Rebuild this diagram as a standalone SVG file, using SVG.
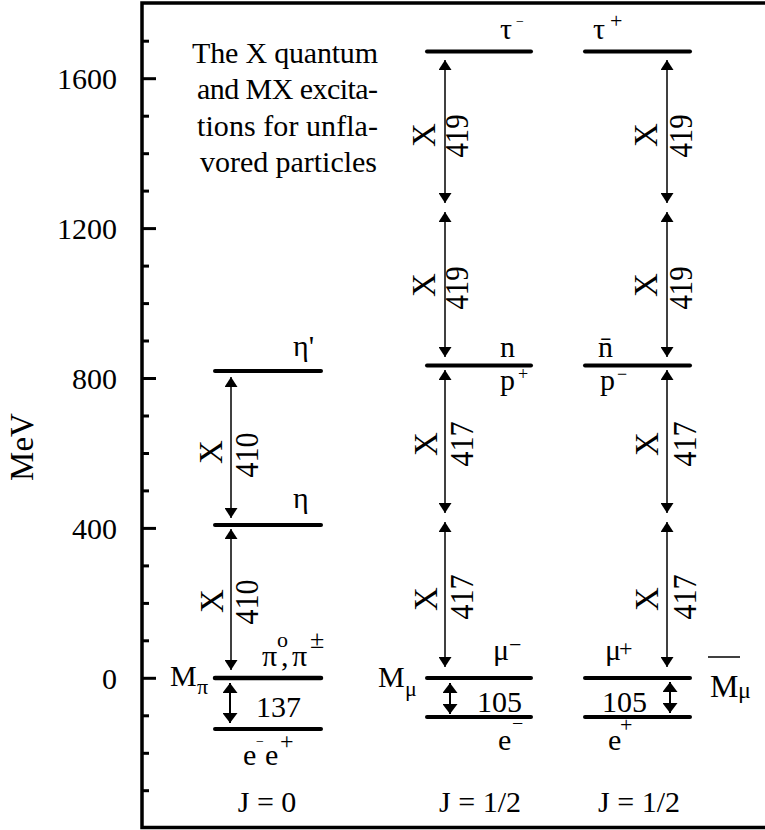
<svg xmlns="http://www.w3.org/2000/svg" width="765" height="830" viewBox="0 0 765 830" font-family="Liberation Serif">
<defs>
<marker id="ah" viewBox="0 0 10 13" refX="10" refY="6.5" markerWidth="10" markerHeight="13" markerUnits="userSpaceOnUse" orient="auto-start-reverse"><path d="M0,0 L10,6.5 L0,13 z" fill="#000"/></marker>
<marker id="ah2" viewBox="0 0 10 15" refX="10" refY="7.5" markerWidth="10" markerHeight="15" markerUnits="userSpaceOnUse" orient="auto-start-reverse"><path d="M0,0 L10,7.5 L0,15 z" fill="#000"/></marker>
</defs>
<rect width="765" height="830" fill="#fff"/>
<g id="frame">
<path d="M765,3 H142 V827.5 H765" fill="none" stroke="#000" stroke-width="3.5"/>
</g>
<g id="axis">
<g stroke="#000" stroke-width="3">
<line x1="142" y1="790.7" x2="149" y2="790.7"/>
<line x1="142" y1="753.3" x2="149" y2="753.3"/>
<line x1="142" y1="715.8" x2="149" y2="715.8"/>
<line x1="142" y1="678.3" x2="156" y2="678.3"/>
<line x1="142" y1="640.8" x2="149" y2="640.8"/>
<line x1="142" y1="603.4" x2="149" y2="603.4"/>
<line x1="142" y1="565.9" x2="149" y2="565.9"/>
<line x1="142" y1="528.4" x2="156" y2="528.4"/>
<line x1="142" y1="490.9" x2="149" y2="490.9"/>
<line x1="142" y1="453.5" x2="149" y2="453.5"/>
<line x1="142" y1="416" x2="149" y2="416"/>
<line x1="142" y1="378.5" x2="156" y2="378.5"/>
<line x1="142" y1="341" x2="149" y2="341"/>
<line x1="142" y1="303.6" x2="149" y2="303.6"/>
<line x1="142" y1="266.1" x2="149" y2="266.1"/>
<line x1="142" y1="228.6" x2="156" y2="228.6"/>
<line x1="142" y1="191.1" x2="149" y2="191.1"/>
<line x1="142" y1="153.7" x2="149" y2="153.7"/>
<line x1="142" y1="116.2" x2="149" y2="116.2"/>
<line x1="142" y1="78.7" x2="156" y2="78.7"/>
<line x1="142" y1="41.2" x2="149" y2="41.2"/>
</g>
<text font-family="Liberation Serif" font-size="30" text-anchor="end" x="117" y="89">1600</text>
<text font-family="Liberation Serif" font-size="30" text-anchor="end" x="117" y="239">1200</text>
<text font-family="Liberation Serif" font-size="30" text-anchor="end" x="117" y="389">800</text>
<text font-family="Liberation Serif" font-size="30" text-anchor="end" x="117" y="539">400</text>
<text font-family="Liberation Serif" font-size="30" text-anchor="end" x="117" y="689">0</text>
<text font-family="Liberation Serif" font-size="33" text-anchor="middle" transform="translate(33,447) rotate(-90)">MeV</text>
</g>
<g id="title">
<text font-family="Liberation Serif" font-size="30" x="192" y="63" textLength="186" lengthAdjust="spacing">The X quantum</text>
<text font-family="Liberation Serif" font-size="30" x="197" y="99" textLength="181" lengthAdjust="spacing">and MX excita-</text>
<text font-family="Liberation Serif" font-size="30" x="197" y="136" textLength="181" lengthAdjust="spacing">tions for unfla-</text>
<text font-family="Liberation Serif" font-size="30" x="200" y="172" textLength="177" lengthAdjust="spacing">vored particles</text>
</g>
<g id="level-eta-prime">
<line x1="215" y1="371" x2="321" y2="371" stroke="#000" stroke-width="4" stroke-linecap="round"/>
<text font-family="Liberation Serif" font-size="30" x="293" y="356">&#951;'</text>
</g>
<g id="level-eta">
<line x1="215" y1="525" x2="321" y2="525" stroke="#000" stroke-width="4" stroke-linecap="round"/>
<text font-family="Liberation Serif" font-size="30" x="293" y="508">&#951;</text>
</g>
<g id="level-pi">
<line x1="215" y1="678" x2="321" y2="678" stroke="#000" stroke-width="4.5" stroke-linecap="round"/>
<text font-family="Liberation Serif" font-size="30" x="262" y="666">&#960;</text>
<text font-family="Liberation Serif" font-size="22" x="277" y="647">o</text>
<text font-family="Liberation Serif" font-size="30" x="281" y="666">,</text>
<text font-family="Liberation Serif" font-size="30" x="292" y="666">&#960;</text>
<text font-family="Liberation Serif" font-size="26" x="310" y="648">&#177;</text>
<text font-family="Liberation Serif" font-size="30" x="170" y="686">M</text>
<text font-family="Liberation Serif" font-size="22" x="197" y="694">&#960;</text>
<text font-family="Liberation Serif" font-size="30" x="256" y="717">137</text>
</g>
<g id="level-ee">
<line x1="215" y1="729" x2="321" y2="729" stroke="#000" stroke-width="4" stroke-linecap="round"/>
<text font-family="Liberation Serif" font-size="30" x="243" y="765">e</text>
<text font-family="Liberation Serif" font-size="14" x="256" y="746">&#8722;</text>
<text font-family="Liberation Serif" font-size="30" x="265" y="765">e</text>
<text font-family="Liberation Serif" font-size="24" x="280" y="749">+</text>
</g>
<g id="level-tau-minus">
<line x1="427" y1="51.5" x2="531" y2="51.5" stroke="#000" stroke-width="4" stroke-linecap="round"/>
<text font-family="Liberation Serif" font-size="30" x="500" y="39">&#964;</text>
<text font-family="Liberation Serif" font-size="14" x="516" y="26">&#8722;</text>
</g>
<g id="level-tau-plus">
<line x1="585" y1="51.5" x2="690" y2="51.5" stroke="#000" stroke-width="4" stroke-linecap="round"/>
<text font-family="Liberation Serif" font-size="30" x="593" y="39">&#964;</text>
<text font-family="Liberation Serif" font-size="22" x="610" y="28">+</text>
</g>
<g id="level-n-p">
<line x1="427" y1="365.5" x2="531" y2="365.5" stroke="#000" stroke-width="4" stroke-linecap="round"/>
<text font-family="Liberation Serif" font-size="30" x="500" y="357">n</text>
<text font-family="Liberation Serif" font-size="30" x="500" y="390">p</text>
<text font-family="Liberation Serif" font-size="18" x="518" y="380">+</text>
</g>
<g id="level-nbar-pbar">
<line x1="585" y1="365.5" x2="690" y2="365.5" stroke="#000" stroke-width="4" stroke-linecap="round"/>
<text font-family="Liberation Serif" font-size="30" x="598" y="357">n&#772;</text>
<text font-family="Liberation Serif" font-size="30" x="600" y="390">p</text>
<text font-family="Liberation Serif" font-size="18" x="617" y="380">&#8722;</text>
</g>
<g id="level-mu-minus">
<line x1="427" y1="678" x2="531" y2="678" stroke="#000" stroke-width="4" stroke-linecap="round"/>
<text font-family="Liberation Serif" font-size="30" x="493" y="660">&#956;</text>
<text font-family="Liberation Serif" font-size="22" x="509" y="652">&#8722;</text>
<text font-family="Liberation Serif" font-size="30" x="378" y="687">M</text>
<text font-family="Liberation Serif" font-size="22" x="405" y="696">&#956;</text>
<text font-family="Liberation Serif" font-size="30" x="477" y="712">105</text>
</g>
<g id="level-e-minus">
<line x1="427" y1="717" x2="531" y2="717" stroke="#000" stroke-width="4" stroke-linecap="round"/>
<text font-family="Liberation Serif" font-size="30" x="498" y="750">e</text>
<text font-family="Liberation Serif" font-size="20" x="512" y="730">&#8722;</text>
</g>
<g id="level-mu-plus">
<line x1="585" y1="678" x2="690" y2="678" stroke="#000" stroke-width="4" stroke-linecap="round"/>
<text font-family="Liberation Serif" font-size="30" x="605" y="660">&#956;</text>
<text font-family="Liberation Serif" font-size="24" x="619" y="656">+</text>
<text font-family="Liberation Serif" font-size="32" x="710" y="697">M</text>
<line x1="708" y1="657" x2="740" y2="657" stroke="#000" stroke-width="1.5"/>
<text font-family="Liberation Serif" font-size="24" x="738" y="698">&#956;</text>
<text font-family="Liberation Serif" font-size="30" x="602" y="712">105</text>
</g>
<g id="level-e-plus">
<line x1="585" y1="717" x2="690" y2="717" stroke="#000" stroke-width="4" stroke-linecap="round"/>
<text font-family="Liberation Serif" font-size="30" x="608" y="750">e</text>
<text font-family="Liberation Serif" font-size="22" x="620" y="732">+</text>
</g>
<g id="spin-labels">
<text font-family="Liberation Serif" font-size="30" text-anchor="middle" x="267" y="812">J = 0</text>
<text font-family="Liberation Serif" font-size="30" text-anchor="middle" x="480" y="812">J = 1/2</text>
<text font-family="Liberation Serif" font-size="30" text-anchor="middle" x="639" y="812">J = 1/2</text>
</g>
<g id="connectors" stroke="#000">
<g stroke-width="1.5" marker-start="url(#ah)" marker-end="url(#ah)">
<line x1="231" y1="377" x2="231" y2="518"/>
<line x1="231" y1="529" x2="231" y2="670"/>
<line x1="445" y1="60" x2="445" y2="203"/>
<line x1="445" y1="212" x2="445" y2="357"/>
<line x1="445" y1="370" x2="445" y2="513"/>
<line x1="445" y1="522" x2="445" y2="667"/>
<line x1="667" y1="60" x2="667" y2="203"/>
<line x1="667" y1="212" x2="667" y2="357"/>
<line x1="667" y1="370" x2="667" y2="513"/>
<line x1="667" y1="522" x2="667" y2="667"/>
</g>
<g stroke-width="2" marker-start="url(#ah2)" marker-end="url(#ah2)">
<line x1="230" y1="683" x2="230" y2="723"/>
<line x1="450" y1="683" x2="450" y2="714"/>
<line x1="670" y1="682" x2="670" y2="713"/>
</g>
</g>
<g id="connector-labels">
<text font-family="Liberation Serif" font-size="33" text-anchor="middle" transform="translate(222,452) rotate(-90)">X</text>
<text font-family="Liberation Serif" font-size="33" text-anchor="middle" transform="translate(258,455) rotate(-90)" textLength="45" lengthAdjust="spacingAndGlyphs">410</text>
<text font-family="Liberation Serif" font-size="33" text-anchor="middle" transform="translate(223,601) rotate(-90)">X</text>
<text font-family="Liberation Serif" font-size="33" text-anchor="middle" transform="translate(258,602) rotate(-90)" textLength="45" lengthAdjust="spacingAndGlyphs">410</text>
<text font-family="Liberation Serif" font-size="33" text-anchor="middle" transform="translate(435,135) rotate(-90)">X</text>
<text font-family="Liberation Serif" font-size="33" text-anchor="middle" transform="translate(468,136) rotate(-90)" textLength="43" lengthAdjust="spacingAndGlyphs">419</text>
<text font-family="Liberation Serif" font-size="33" text-anchor="middle" transform="translate(435,285) rotate(-90)">X</text>
<text font-family="Liberation Serif" font-size="33" text-anchor="middle" transform="translate(468,288) rotate(-90)" textLength="43" lengthAdjust="spacingAndGlyphs">419</text>
<text font-family="Liberation Serif" font-size="33" text-anchor="middle" transform="translate(437,444) rotate(-90)">X</text>
<text font-family="Liberation Serif" font-size="33" text-anchor="middle" transform="translate(473,444) rotate(-90)" textLength="45" lengthAdjust="spacingAndGlyphs">417</text>
<text font-family="Liberation Serif" font-size="33" text-anchor="middle" transform="translate(437,599) rotate(-90)">X</text>
<text font-family="Liberation Serif" font-size="33" text-anchor="middle" transform="translate(473,597) rotate(-90)" textLength="45" lengthAdjust="spacingAndGlyphs">417</text>
<text font-family="Liberation Serif" font-size="33" text-anchor="middle" transform="translate(657,135) rotate(-90)">X</text>
<text font-family="Liberation Serif" font-size="33" text-anchor="middle" transform="translate(692,136) rotate(-90)" textLength="43" lengthAdjust="spacingAndGlyphs">419</text>
<text font-family="Liberation Serif" font-size="33" text-anchor="middle" transform="translate(657,285) rotate(-90)">X</text>
<text font-family="Liberation Serif" font-size="33" text-anchor="middle" transform="translate(692,288) rotate(-90)" textLength="43" lengthAdjust="spacingAndGlyphs">419</text>
<text font-family="Liberation Serif" font-size="33" text-anchor="middle" transform="translate(658,444) rotate(-90)">X</text>
<text font-family="Liberation Serif" font-size="33" text-anchor="middle" transform="translate(696,444) rotate(-90)" textLength="45" lengthAdjust="spacingAndGlyphs">417</text>
<text font-family="Liberation Serif" font-size="33" text-anchor="middle" transform="translate(658,599) rotate(-90)">X</text>
<text font-family="Liberation Serif" font-size="33" text-anchor="middle" transform="translate(696,597) rotate(-90)" textLength="45" lengthAdjust="spacingAndGlyphs">417</text>
</g>
</svg>
